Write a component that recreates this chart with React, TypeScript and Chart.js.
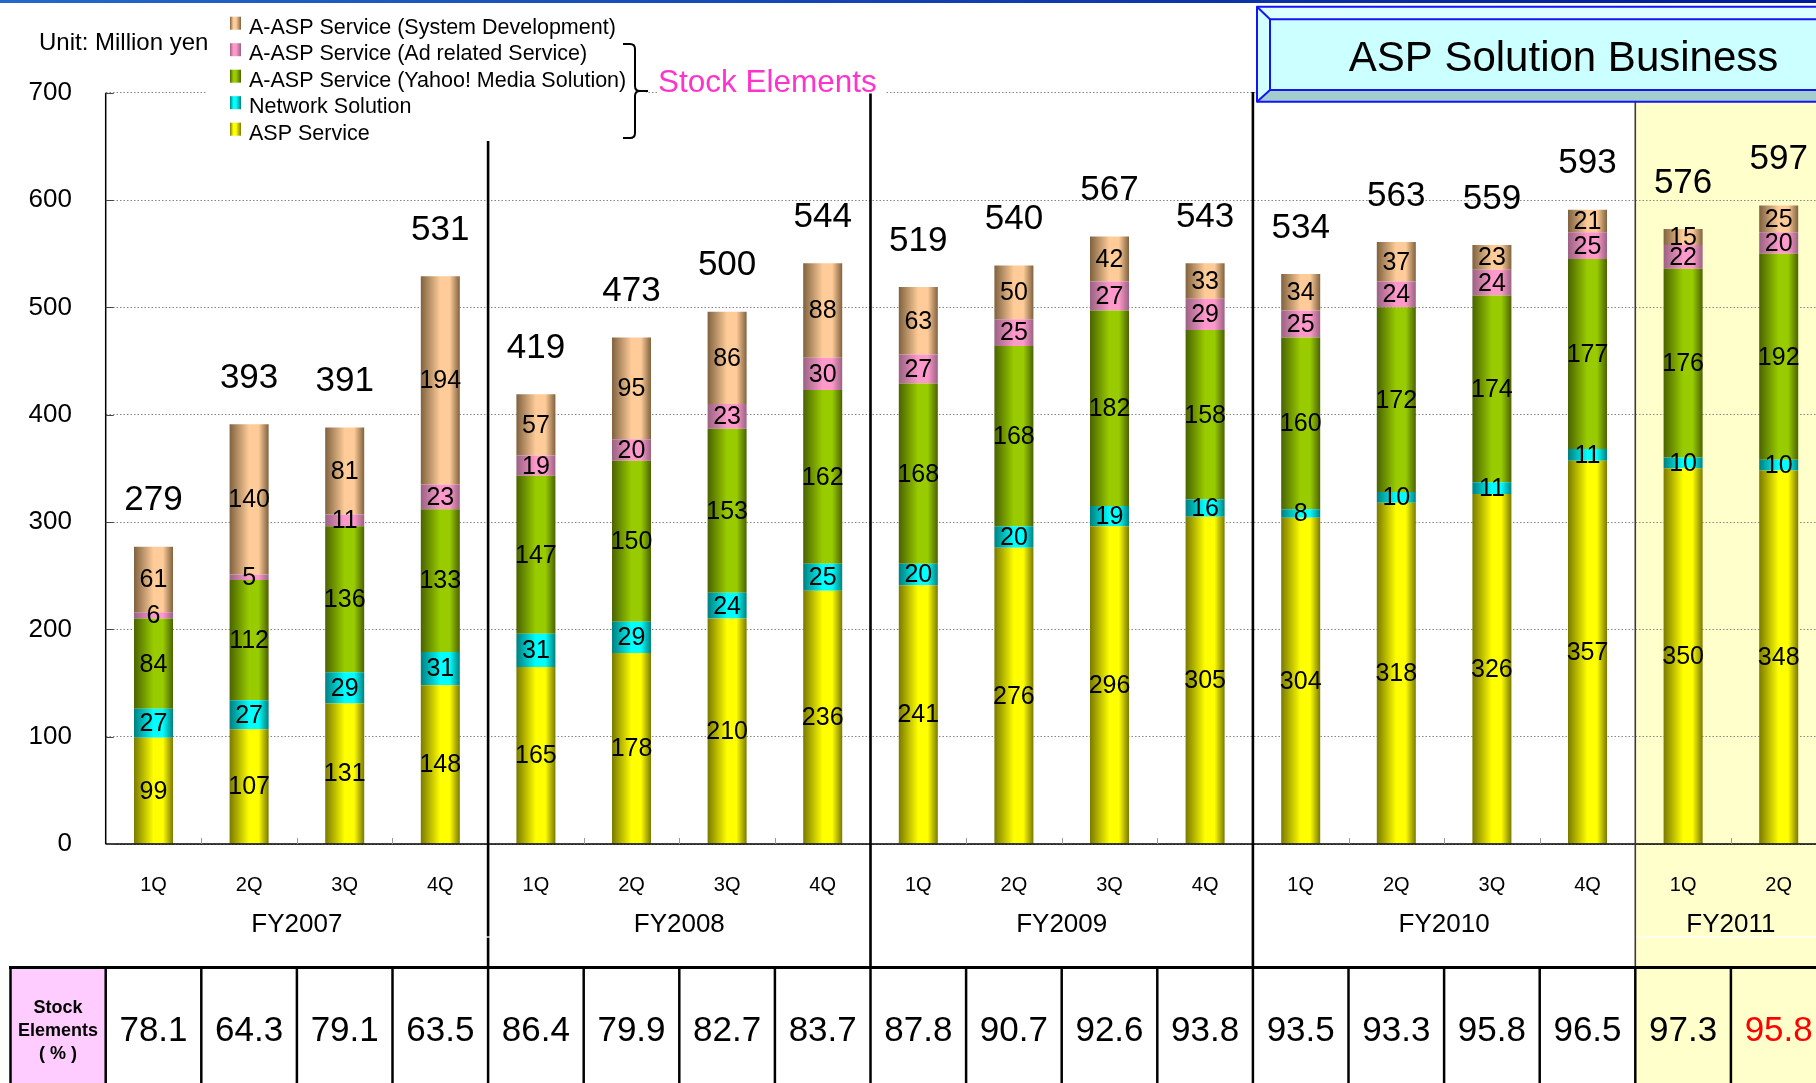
import { useEffect, useRef } from 'react';
import { Chart, registerables } from 'chart.js';

Chart.register(...registerables);

// Quarterly sales of the ASP Solution Business, million yen
const quarterLabels = ['1Q', '2Q', '3Q', '4Q', '1Q', '2Q', '3Q', '4Q', '1Q', '2Q', '3Q', '4Q', '1Q', '2Q', '3Q', '4Q', '1Q', '2Q'];
const fiscalYears = ['FY2007', 'FY2008', 'FY2009', 'FY2010', 'FY2011'];
const quartersPerYear = [4, 4, 4, 4, 2];

const aspService = [99, 107, 131, 148, 165, 178, 210, 236, 241, 276, 296, 305, 304, 318, 326, 357, 350, 348];
const networkSolution = [27, 27, 29, 31, 31, 29, 24, 25, 20, 20, 19, 16, 8, 10, 11, 11, 10, 10];
const yahooMediaSolution = [84, 112, 136, 133, 147, 150, 153, 162, 168, 168, 182, 158, 160, 172, 174, 177, 176, 192];
const adRelatedService = [6, 5, 11, 23, 19, 20, 23, 30, 27, 25, 27, 29, 25, 24, 24, 25, 22, 20];
const systemDevelopment = [61, 140, 81, 194, 57, 95, 86, 88, 63, 50, 42, 33, 34, 37, 23, 21, 15, 25];
const totals = [279, 393, 391, 531, 419, 473, 500, 544, 519, 540, 567, 543, 534, 563, 559, 593, 576, 597];
const stockElementsPct = [78.1, 64.3, 79.1, 63.5, 86.4, 79.9, 82.7, 83.7, 87.8, 90.7, 92.6, 93.8, 93.5, 93.3, 95.8, 96.5, 97.3, 95.8];

const yAxisMax = 700;
const yAxisStep = 100;

const seriesLabels = [
  'ASP Service',
  'Network Solution',
  'A-ASP Service (Yahoo! Media Solution)',
  'A-ASP Service (Ad related Service)',
  'A-ASP Service (System Development)',
];
const seriesValues = [aspService, networkSolution, yahooMediaSolution, adRelatedService, systemDevelopment];

// bright face colour and shaded edge colour of each stacked segment
const seriesLight = ['#FFFF00', '#00FFFF', '#99CC00', '#FF99CC', '#FFCC99'];
const seriesDark = ['#7A7A00', '#007F7F', '#4A6300', '#9A6282', '#80623F'];

const unitText = 'Unit: Million yen';
const titleText = 'ASP Solution Business';
const bracketText = 'Stock Elements';
const tableRowLabel = ['Stock', 'Elements', '( % )'];

// ---- layout ----
const FONT = '"Liberation Sans", Arial, Helvetica, sans-serif';
const VIEW_W = 1816;
const CANVAS_W = 1830;
const CANVAS_H = 1083;
const PLOT_LEFT = 105.7;
const PLOT_RIGHT = 1826.5;
const PLOT_TOP = 92.7;
const PLOT_BOTTOM = 844;
const BAR_FRACTION = 0.408;
const TABLE_TOP = 967.5;
const HIGHLIGHT_TOP = 102;
const SEPARATOR_TOPS = [141, 93, 92, 101.7];

function barFill(chart: any, index: number | undefined, s: number) {
  const xs = chart.scales && chart.scales.x;
  if (!chart.chartArea || !xs || index === undefined) return seriesLight[s];
  const cx = xs.getPixelForValue(index);
  const half = ((xs.width / quarterLabels.length) * BAR_FRACTION) / 2;
  const g = chart.ctx.createLinearGradient(cx - half, 0, cx + half, 0);
  g.addColorStop(0, seriesDark[s]);
  g.addColorStop(0.5, seriesLight[s]);
  g.addColorStop(0.74, seriesLight[s]);
  g.addColorStop(1, seriesDark[s]);
  return g;
}

function yearGroups() {
  const out: { label: string; start: number; end: number }[] = [];
  let start = 0;
  fiscalYears.forEach((label, g) => {
    out.push({ label, start, end: start + quartersPerYear[g] });
    start += quartersPerYear[g];
  });
  return out;
}

function line(ctx: CanvasRenderingContext2D, x1: number, y1: number, x2: number, y2: number) {
  ctx.beginPath();
  ctx.moveTo(x1, y1);
  ctx.lineTo(x2, y2);
  ctx.stroke();
}

function poly(ctx: CanvasRenderingContext2D, pts: number[][], fill: string) {
  ctx.beginPath();
  ctx.moveTo(pts[0][0], pts[0][1]);
  for (let i = 1; i < pts.length; i++) ctx.lineTo(pts[i][0], pts[i][1]);
  ctx.closePath();
  ctx.fillStyle = fill;
  ctx.fill();
}

const decorations = {
  id: 'decorations',
  beforeDraw(chart: any) {
    const { ctx } = chart;
    const xs = chart.scales.x;
    const groups = yearGroups();
    const last = groups[groups.length - 1];
    const hx = xs.getPixelForValue(last.start - 0.5);
    ctx.save();
    ctx.fillStyle = '#FFFFFF';
    ctx.fillRect(0, 0, CANVAS_W, CANVAS_H);
    ctx.fillStyle = '#FFFFCC';
    ctx.fillRect(hx, HIGHLIGHT_TOP, CANVAS_W - hx, CANVAS_H - HIGHLIGHT_TOP);
    ctx.restore();
  },
  afterDatasetsDraw(chart: any) {
    const { ctx } = chart;
    ctx.save();
    ctx.fillStyle = '#000';
    ctx.textAlign = 'center';
    ctx.textBaseline = 'middle';
    ctx.font = `25px ${FONT}`;
    chart.data.datasets.forEach((ds: any, d: number) => {
      const meta = chart.getDatasetMeta(d);
      meta.data.forEach((el: any, i: number) => {
        const { x, y, base } = el.getProps(['x', 'y', 'base'], true);
        ctx.fillText(String(ds.data[i]), x, (y + base) / 2 + 1);
      });
    });
    const topMeta = chart.getDatasetMeta(chart.data.datasets.length - 1);
    ctx.font = `35px ${FONT}`;
    topMeta.data.forEach((el: any, i: number) => {
      const { x, y } = el.getProps(['x', 'y'], true);
      ctx.fillText(String(totals[i]), x, y - 46);
    });
    ctx.restore();
  },
  afterDraw(chart: any) {
    const { ctx, chartArea } = chart;
    const xs = chart.scales.x;
    const ys = chart.scales.y;
    const n = quarterLabels.length;
    const edge = (i: number) => xs.getPixelForValue(i - 0.5);
    const center = (i: number) => xs.getPixelForValue(i);
    const groups = yearGroups();
    const groupEdges = groups.map((g) => g.start);
    const lastGroup = groups[groups.length - 1];

    ctx.save();
    ctx.lineCap = 'butt';

    // axes
    ctx.strokeStyle = '#000';
    ctx.lineWidth = 1.5;
    line(ctx, chartArea.left, chartArea.top, chartArea.left, chartArea.bottom);
    line(ctx, chartArea.left, chartArea.bottom, CANVAS_W, chartArea.bottom);

    // small inward ticks
    ctx.strokeStyle = '#444';
    ctx.lineWidth = 1;
    ys.ticks.forEach((t: any) => {
      const y = Math.round(ys.getPixelForValue(t.value)) + 0.5;
      line(ctx, chartArea.left, y, chartArea.left + 8, y);
    });
    ctx.strokeStyle = '#9a9a9a';
    for (let i = 1; i < n; i++) {
      if (groupEdges.includes(i)) continue;
      const x = Math.round(edge(i)) + 0.5;
      line(ctx, x, chartArea.bottom - 6, x, chartArea.bottom);
    }

    // fiscal year separators
    groups.slice(1).forEach((g, k) => {
      const x = edge(g.start);
      const isLast = g === lastGroup;
      ctx.strokeStyle = isLast ? '#3a3a3a' : '#000';
      ctx.lineWidth = isLast ? 1.6 : 2.6;
      line(ctx, x, SEPARATOR_TOPS[k], x, TABLE_TOP);
    });
    // thin white rule under the year captions
    ctx.strokeStyle = '#FFFFFF';
    ctx.lineWidth = 1.3;
    line(ctx, edge(groups[1].start) - 4, 937, edge(groups[1].start) + 4, 937);
    line(ctx, edge(lastGroup.start) + 1.5, 937, CANVAS_W, 937);

    // category captions
    ctx.fillStyle = '#000';
    ctx.textAlign = 'center';
    ctx.textBaseline = 'middle';
    ctx.font = `20px ${FONT}`;
    quarterLabels.forEach((q, i) => ctx.fillText(q, center(i), 885));
    ctx.font = `26px ${FONT}`;
    groups.forEach((g) => {
      ctx.fillText(g.label, (center(g.start) + center(g.end - 1)) / 2, 924.5);
    });

    // stock elements ratio table
    ctx.fillStyle = '#FFCCFF';
    ctx.fillRect(11, TABLE_TOP, chartArea.left - 11, CANVAS_H - TABLE_TOP);
    ctx.strokeStyle = '#000';
    ctx.lineWidth = 3;
    line(ctx, 9, TABLE_TOP, CANVAS_W, TABLE_TOP);
    ctx.lineWidth = 2.5;
    line(ctx, 10.5, TABLE_TOP, 10.5, CANVAS_H);
    for (let i = 0; i <= n; i++) {
      const x = edge(i);
      line(ctx, x, TABLE_TOP, x, CANVAS_H);
    }
    ctx.fillStyle = '#000';
    ctx.font = `bold 18px ${FONT}`;
    tableRowLabel.forEach((t, k) => ctx.fillText(t, 58, 1008 + k * 23));
    ctx.font = `35px ${FONT}`;
    stockElementsPct.forEach((v, i) => {
      ctx.fillStyle = i === stockElementsPct.length - 1 ? '#FF0000' : '#000';
      ctx.fillText(v.toFixed(1), center(i), 1031);
    });

    // legend
    ctx.fillStyle = '#FFFFFF';
    ctx.fillRect(207, 8, 439, 133);
    ctx.textAlign = 'left';
    ctx.font = `21.5px ${FONT}`;
    const rows = seriesLabels.map((_, s) => s).reverse();
    rows.forEach((s, r) => {
      const cy = 26.7 + r * 26.5;
      const g = ctx.createLinearGradient(230, 0, 241, 0);
      g.addColorStop(0, seriesDark[s]);
      g.addColorStop(0.3, seriesLight[s]);
      g.addColorStop(0.55, seriesLight[s]);
      g.addColorStop(1, seriesDark[s]);
      ctx.fillStyle = g;
      ctx.fillRect(230, cy - 10, 11, 13);
      ctx.fillStyle = '#000';
      ctx.fillText(seriesLabels[s], 249, cy + 1);
    });

    // bracket around the stock elements
    ctx.strokeStyle = '#000';
    ctx.lineWidth = 2;
    ctx.lineJoin = 'round';
    ctx.beginPath();
    ctx.moveTo(623, 44);
    ctx.lineTo(630, 44);
    ctx.quadraticCurveTo(635, 44, 635, 49);
    ctx.lineTo(635, 86);
    ctx.quadraticCurveTo(635, 91, 640, 91);
    ctx.lineTo(648, 91);
    ctx.moveTo(640, 91);
    ctx.quadraticCurveTo(635, 91, 635, 96);
    ctx.lineTo(635, 133);
    ctx.quadraticCurveTo(635, 138, 630, 138);
    ctx.lineTo(623, 138);
    ctx.stroke();

    ctx.fillStyle = '#FFFFFF';
    ctx.fillRect(657, 60, 228, 33.5);
    ctx.fillStyle = '#FF33CC';
    ctx.font = `31.5px ${FONT}`;
    ctx.textBaseline = 'alphabetic';
    ctx.fillText(bracketText, 658, 92);

    // unit note
    ctx.fillStyle = '#000';
    ctx.font = `24px ${FONT}`;
    ctx.textBaseline = 'middle';
    ctx.fillText(unitText, 39, 43);

    // title plate
    const bx0 = 1257;
    const by0 = 6.7;
    const by1 = 101.7;
    const ix0 = 1270;
    const iy0 = 19.3;
    const iy1 = 90;
    const bx1 = CANVAS_W + 5;
    poly(ctx, [[bx0, by0], [bx1, by0], [bx1, iy0], [ix0, iy0]], '#DCFFFF');
    poly(ctx, [[bx0, by0], [ix0, iy0], [ix0, iy1], [bx0, by1]], '#D2FFFF');
    poly(ctx, [[bx0, by1], [ix0, iy1], [bx1, iy1], [bx1, by1]], '#A3CCCC');
    ctx.fillStyle = '#CCFFFF';
    ctx.fillRect(ix0, iy0, bx1 - ix0, iy1 - iy0);
    ctx.strokeStyle = '#1414F5';
    ctx.lineWidth = 2;
    ctx.strokeRect(bx0, by0, bx1 - bx0, by1 - by0);
    ctx.strokeRect(ix0, iy0, bx1 - ix0, iy1 - iy0);
    line(ctx, bx0, by0, ix0, iy0);
    line(ctx, bx0, by1, ix0, iy1);
    ctx.fillStyle = '#000';
    ctx.font = `42px ${FONT}`;
    ctx.textAlign = 'center';
    ctx.textBaseline = 'alphabetic';
    ctx.fillText(titleText, 1563.5, 71);

    // page header rule
    const hg = ctx.createLinearGradient(0, 0, VIEW_W, 0);
    hg.addColorStop(0, '#2468CC');
    hg.addColorStop(1, '#001C94');
    ctx.fillStyle = hg;
    ctx.fillRect(0, 0, CANVAS_W, 3);

    ctx.restore();
  },
};

export default function App() {
  const canvasRef = useRef<HTMLCanvasElement | null>(null);

  useEffect(() => {
    const canvas = canvasRef.current;
    if (!canvas) return;
    const chart = new Chart(canvas, {
      type: 'bar',
      data: {
        labels: quarterLabels,
        datasets: seriesLabels.map((label, s) => ({
          label,
          data: seriesValues[s],
          backgroundColor: (c: any) => barFill(c.chart, c.dataIndex, s),
          borderWidth: 0,
          barPercentage: BAR_FRACTION,
          categoryPercentage: 1,
        })),
      },
      options: {
        responsive: false,
        animation: false,
        devicePixelRatio: 1,
        layout: {
          padding: {
            left: 0,
            top: PLOT_TOP,
            right: CANVAS_W - PLOT_RIGHT,
            bottom: CANVAS_H - PLOT_BOTTOM,
          },
        },
        plugins: {
          legend: { display: false },
          tooltip: { enabled: false },
        },
        scales: {
          x: {
            stacked: true,
            display: false,
          },
          y: {
            stacked: true,
            min: 0,
            max: yAxisMax,
            ticks: {
              stepSize: yAxisStep,
              color: '#000',
              padding: PLOT_LEFT - 72,
              font: { family: FONT, size: 26 },
            },
            grid: { color: '#858585', lineWidth: 1, drawTicks: false },
            border: { display: false, dash: [1.5, 2] },
            afterFit: (scale: any) => {
              scale.width = PLOT_LEFT;
            },
          },
        },
      },
      plugins: [decorations as any],
    });
    return () => chart.destroy();
  }, []);

  return (
    <div
      style={{
        position: 'fixed',
        left: 0,
        top: 0,
        width: VIEW_W,
        height: CANVAS_H,
        overflow: 'hidden',
        background: '#fff',
      }}
    >
      <canvas ref={canvasRef} width={CANVAS_W} height={CANVAS_H} style={{ display: 'block' }} />
    </div>
  );
}
